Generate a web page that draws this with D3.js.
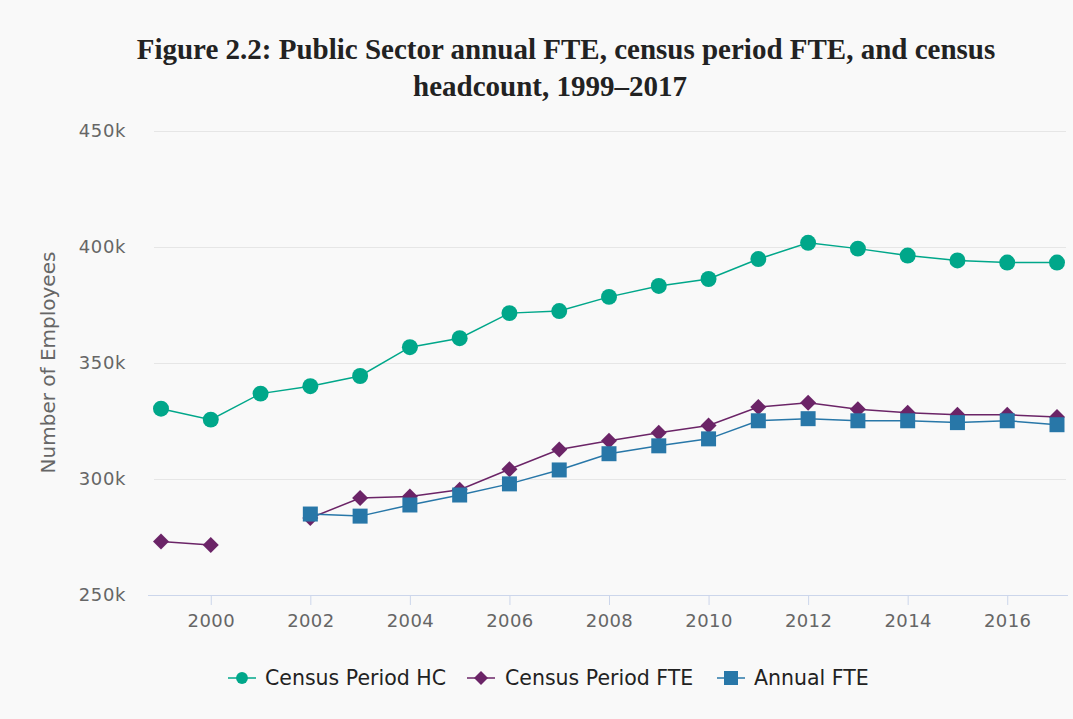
<!DOCTYPE html>
<html>
<head>
<meta charset="utf-8">
<script src="https://cdn.jsdelivr.net/npm/d3@7"></script>
<style>
  body { margin: 0; background: #f9f9f9; }
  svg { display: block; }
</style>
</head>
<body>
<svg></svg>
<script>
const years = d3.range(1999, 2018);

// values, null where a year has no point
const censusHC = [330300, 325600, 336800, 340000, 344400, 356800, 360700, 371500, 372400, 378500,
    383200, 386200, 394800, 401800, 399300, 396300, 394200, 393300, 393300];
const censusFTE = [273100, 271500, null, 283200, 291800, 292500, 295400, 304200, 312700, 316500,
    319900, 323100, 331000, 332900, 330100, 328600, 327700, 327700, 326700];
const annualFTE = [null, null, null, 284900, 284000, 288800, 293100, 297900, 303900, 310900,
    314300, 317300, 325100, 326000, 325100, 325100, 324300, 325100, 323400];

const yTicks = [250000, 300000, 350000, 400000, 450000];
const xTicks = [2000, 2002, 2004, 2006, 2008, 2010, 2012, 2014, 2016];

const series = [
    { name: "Census Period HC", values: censusHC, color: "#00a78a", symbol: "circle" },
    { name: "Census Period FTE", values: censusFTE, color: "#6b2467", symbol: "diamond" },
    { name: "Annual FTE", values: annualFTE, color: "#2877a8", symbol: "square" }
];

const width = 1073;
const height = 719;
const svg = d3.select("svg")
    .attr("width", width)
    .attr("height", height);

svg.append("rect").attr("width", width).attr("height", height).attr("fill", "#f9f9f9");

const margin = { top: 131, right: 7, bottom: 125, left: 154 };
const chartWidth = width - margin.left - margin.right;
const chartHeight = height - margin.top - margin.bottom;

const x = d3.scaleLinear().domain([1999, 2017]).range([7, chartWidth - 9]);
const y = d3.scaleLinear().domain([250000, 450000]).range([chartHeight + 1, 0]);

const chartGroup = svg.append("g")
    .attr("transform", `translate(${margin.left},${margin.top})`);

// title
const titleLines = [
    { text: "Figure 2.2: Public Sector annual FTE, census period FTE, and census", cx: 566, y: 59 },
    { text: "headcount, 1999\u20132017", cx: 550, y: 96 }
];
svg.selectAll("text.title")
    .data(titleLines)
    .enter().append("text")
    .attr("class", "title")
    .attr("x", d => d.cx)
    .attr("y", d => d.y)
    .attr("text-anchor", "middle")
    .style("font-family", "'Liberation Serif', serif")
    .style("font-weight", "bold")
    .style("font-size", "29px")
    .style("fill", "#222")
    .text(d => d.text);

// grid lines + y labels
const yAxis = chartGroup.append("g")
    .call(d3.axisLeft(y).tickValues(yTicks).tickSize(-chartWidth).tickFormat(d => d / 1000 + "k"));
yAxis.select(".domain").remove();
yAxis.selectAll(".tick line").attr("stroke", "#e6e6e6");
yAxis.selectAll(".tick text")
    .attr("x", -28)
    .style("font-family", "'DejaVu Sans', sans-serif")
    .style("font-size", "18px")
    .style("letter-spacing", "0.6px")
    .style("fill", "#666");

// x axis
const xAxis = chartGroup.append("g")
    .attr("transform", `translate(0,${chartHeight + 1})`)
    .call(d3.axisBottom(x).tickValues(xTicks).tickSize(10).tickFormat(d3.format("d")));
xAxis.select(".domain").attr("stroke", "#ccd6eb").attr("d", `M-6,0.5H${chartWidth + 2}`);
xAxis.selectAll(".tick line").attr("stroke", "#ccd6eb");
xAxis.selectAll(".tick text")
    .attr("y", 19)
    .style("font-family", "'DejaVu Sans', sans-serif")
    .style("font-size", "18px")
    .style("letter-spacing", "0.4px")
    .style("fill", "#666");

svg.append("text")
    .attr("transform", `translate(55,${margin.top + chartHeight / 2}) rotate(-90)`)
    .attr("text-anchor", "middle")
    .style("font-family", "'DejaVu Sans', sans-serif")
    .style("font-size", "20px")
    .style("fill", "#666")
    .text("Number of Employees");

const symbolPath = {
    circle: d3.symbol(d3.symbolCircle, 200)(),
    diamond: "M0,-8L8,0L0,8L-8,0Z",
    square: "M-7.5,-7.5H7.5V7.5H-7.5Z"
};

const line = d3.line()
    .defined(d => d.value != null)
    .x(d => x(d.year))
    .y(d => y(d.value));

series.forEach(s => {
    const pts = years.map((yr, i) => ({ year: yr, value: s.values[i] }));
    chartGroup.append("path")
        .datum(pts)
        .attr("fill", "none")
        .attr("stroke", s.color)
        .attr("stroke-width", 1.5)
        .attr("d", line);
    chartGroup.selectAll(null)
        .data(pts.filter(d => d.value != null))
        .enter().append("path")
        .attr("transform", d => `translate(${x(d.year)},${y(d.value)})`)
        .attr("d", symbolPath[s.symbol])
        .attr("fill", s.color);
});

// legend
const legendItems = [
    { x: 228, textX: 265 },
    { x: 467, textX: 505 },
    { x: 717, textX: 754 }
];
const legend = svg.append("g").attr("transform", "translate(0,678)");
series.forEach((s, i) => {
    const lx = legendItems[i].x;
    legend.append("line")
        .attr("x1", lx).attr("x2", lx + 28)
        .attr("stroke", s.color).attr("stroke-width", 1.5);
    legend.append("path")
        .attr("transform", `translate(${lx + 14},0)`)
        .attr("d", s.symbol === "circle" ? d3.symbol(d3.symbolCircle, 110)()
            : s.symbol === "diamond" ? "M0,-7L7,0L0,7L-7,0Z" : "M-7,-7H7V7H-7Z")
        .attr("fill", s.color);
    legend.append("text")
        .attr("x", legendItems[i].textX)
        .attr("y", 7)
        .style("font-family", "'DejaVu Sans', sans-serif")
        .style("font-size", "20.5px")
        .style("fill", "#222")
        .text(s.name);
});
</script>
</body>
</html>
